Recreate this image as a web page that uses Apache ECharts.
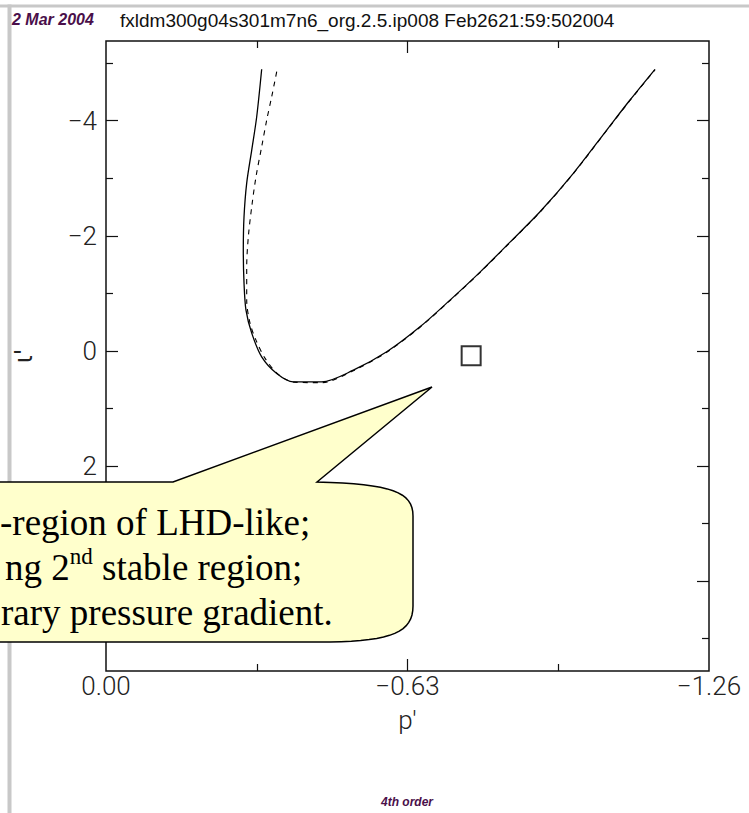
<!DOCTYPE html>
<html><head><meta charset="utf-8">
<script src="https://cdn.jsdelivr.net/npm/echarts@6/dist/echarts.min.js"></script>
<style>html,body{margin:0;padding:0;background:#fff}#c{width:749px;height:813px}</style>
</head><body><div id="c"></div>
<script>
// ---- data ----
const solidP = [-0.3253,-0.3149,-0.3045,-0.2940,-0.2884,-0.2869,-0.2884,-0.2925,-0.3045,-0.3253,-0.3567,-0.3914,-0.4507,-0.5168,-0.5866,-0.6561,-0.7188,-0.7815,-0.8442,-0.9069,-0.9765,-1.0463,-1.0949,-1.1472];
const solidIota = [-4.894,-4.069,-3.490,-2.916,-2.330,-1.751,-1.177,-0.708,-0.308,0.104,0.393,0.539,0.539,0.336,0.017,-0.417,-0.882,-1.369,-1.890,-2.417,-3.085,-3.838,-4.360,-4.894];
const dashedP = [-0.3567,-0.3462,-0.3358,-0.3253,-0.3134,-0.3045,-0.2974,-0.2940,-0.2940,-0.3009,-0.3134,-0.3322,-0.3594,-0.3928,-0.4513,-0.5168,-0.5866,-0.6561,-0.7188,-0.7815,-0.8442,-0.9069,-0.9765,-1.0463,-1.0949,-1.1472];
const dashedIota = [-4.852,-4.417,-4.012,-3.548,-3.026,-2.504,-1.983,-1.461,-0.882,-0.482,-0.186,0.127,0.405,0.544,0.553,0.345,0.025,-0.410,-0.875,-1.362,-1.884,-2.412,-3.080,-3.832,-4.352,-4.886];
const markerP = [-0.763];
const markerIota = [0.084];

const xRange = [-1.26, 0];
const yRange = [-5.386, 5.565];
const xLabelValues = [0, -0.63, -1.26];
const xMajorTicks = [-0.63];
const xMinorTicks = [-0.315, -0.945];
const yLabelValues = [-4, -2, 0, 2];
const yMajorTicks = [-4, -2, 0, 2, 4];
const yMinorTicks = [-5, -3, -1, 1, 3, 5];

const titleText = 'fxldm300g04s301m7n6_org.2.5.ip008 Feb2621:59:502004';
const dateText = '2 Mar 2004';
const footText = '4th order';
const xName = "p'";
const yName = "\u03b9'";
const calloutLine1 = '-region of LHD-like;';
const calloutLine2a = 'ng 2';
const calloutLine2sup = 'nd';
const calloutLine2b = ' stable region;';
const calloutLine3 = 'rary pressure gradient.';

// ---- helpers ----
const zip = (a, b) => a.map((v, i) => [v, b[i]]);
const fmtX = v => (Math.abs(v) < 1e-9 ? '0.00' : (v < 0 ? '\u2212' : '') + Math.abs(v).toFixed(2));
const fmtY = v => (v < 0 ? '\u2212' + Math.abs(v) : String(v));
const thinFamily = 'Roboto, "Liberation Sans", Arial, sans-serif';
const labelFont = { fontFamily: thinFamily, fontWeight: 300, fontSize: 26, color: '#222' };

function xAx(pos, ticks, len, labels) {
  return {
    type: 'value', position: pos, min: xRange[0], max: xRange[1], inverse: true,
    axisLine: { show: false, onZero: false }, splitLine: { show: false },
    axisTick: { show: true, inside: true, length: len, customValues: ticks, lineStyle: { color: '#111', width: 1.2 } },
    axisLabel: labels ? Object.assign({ show: true, customValues: labels, formatter: fmtX, margin: 2 }, labelFont) : { show: false }
  };
}
function yAx(pos, ticks, len, labels) {
  return {
    type: 'value', position: pos, min: yRange[0], max: yRange[1], inverse: true,
    axisLine: { show: false, onZero: false }, splitLine: { show: false },
    axisTick: { show: true, inside: true, length: len, customValues: ticks, lineStyle: { color: '#111', width: 1.2 } },
    axisLabel: labels ? Object.assign({ show: true, customValues: labels, formatter: fmtY, margin: 9 }, labelFont) : { show: false }
  };
}

const xAxes = [
  Object.assign(xAx('bottom', xMajorTicks, 12, xLabelValues), {
    name: xName, nameLocation: 'middle', nameGap: 36,
    nameTextStyle: { fontFamily: thinFamily, fontWeight: 300, fontSize: 26, color: '#222' }
  }),
  xAx('bottom', xMinorTicks, 7, null),
  xAx('top', xMajorTicks, 12, null),
  xAx('top', xMinorTicks, 7, null)
];
const yAxes = [
  Object.assign(yAx('left', yMajorTicks, 12, yLabelValues), {
    name: yName, nameLocation: 'middle', nameGap: 70, nameRotate: 90,
    nameTextStyle: { fontFamily: '"DejaVu Sans", sans-serif', fontSize: 24, color: '#222' }
  }),
  yAx('left', yMinorTicks, 7, null),
  yAx('right', yMajorTicks, 12, null),
  yAx('right', yMinorTicks, 7, null)
];

// callout outline (decoration) built from straight segments and sampled cubic corners
function cubic(p0, p1, p2, p3, n) {
  const out = [];
  for (let i = 1; i <= n; i++) {
    const t = i / n, u = 1 - t;
    out.push([
      u*u*u*p0[0] + 3*u*u*t*p1[0] + 3*u*t*t*p2[0] + t*t*t*p3[0],
      u*u*u*p0[1] + 3*u*u*t*p1[1] + 3*u*t*t*p2[1] + t*t*t*p3[1]
    ]);
  }
  return out;
}
const bubblePts = [[-20, 482], [173, 482], [432, 387], [317, 482]]
  .concat(cubic([317, 482], [392, 484], [413, 492], [413, 516], 16))
  .concat([[413, 606]])
  .concat(cubic([413, 606], [413, 632], [392, 641], [330, 642], 16))
  .concat([[-20, 642]]);

const serifFont = '37px "Liberation Serif", "Times New Roman", serif';

const chart = echarts.init(document.getElementById('c'), null, { renderer: 'svg', width: 749, height: 813 });
chart.setOption({
  animation: false,
  backgroundColor: '#fff',
  grid: { left: 106, top: 41, width: 603, height: 630, show: true, borderColor: '#111', borderWidth: 1.5, backgroundColor: 'transparent' },
  xAxis: xAxes,
  yAxis: yAxes,
  series: [
    { type: 'line', data: zip(dashedP, dashedIota), showSymbol: false, smooth: 0.3, xAxisIndex: 0, yAxisIndex: 0,
      lineStyle: { color: '#000', width: 1.1, type: [5, 5] }, z: 2 },
    { type: 'line', data: zip(solidP, solidIota), showSymbol: false, smooth: 0.3, xAxisIndex: 0, yAxisIndex: 0,
      lineStyle: { color: '#000', width: 1.3 }, z: 3 },
    { type: 'scatter', data: zip(markerP, markerIota), symbol: 'rect', symbolSize: 19, xAxisIndex: 0, yAxisIndex: 0,
      itemStyle: { color: 'rgba(255,255,255,0)', borderColor: '#000', borderWidth: 2 }, z: 4 }
  ],
  graphic: [
    { type: 'rect', silent: true, shape: { x: 0, y: 4.5, width: 749, height: 3 }, style: { fill: '#c8c8c8' } },
    { type: 'rect', silent: true, shape: { x: 7.5, y: 4.5, width: 4, height: 809 }, style: { fill: '#c8c8c8' } },
    { type: 'text', silent: true, x: 12, y: 19, style: { text: dateText, font: 'italic bold 16px "Liberation Sans", Arial, sans-serif', fill: '#4a0f4a', align: 'left', verticalAlign: 'middle' } },
    { type: 'text', silent: true, x: 120, y: 20, style: { text: titleText, font: '19px "Liberation Sans", Arial, sans-serif', fill: '#111', align: 'left', verticalAlign: 'middle' } },
    { type: 'text', silent: true, x: 407, y: 802, style: { text: footText, font: 'italic bold 12px "Liberation Sans", Arial, sans-serif', fill: '#4a0f4a', align: 'center', verticalAlign: 'middle' } },
    { type: 'polygon', silent: true, z: 100, shape: { points: bubblePts }, style: { fill: '#ffffcc', stroke: '#000', lineWidth: 1.5 } },
    { type: 'text', silent: true, z: 101, x: 0, y: 522, style: { text: calloutLine1, font: serifFont, fill: '#000', align: 'left', verticalAlign: 'middle' } },
    { type: 'text', silent: true, z: 101, x: 5, y: 567, style: {
        text: '{a|' + calloutLine2a + '}{s|' + calloutLine2sup + '}{a|' + calloutLine2b + '}',
        fill: '#000', align: 'left', verticalAlign: 'middle',
        rich: {
          a: { font: serifFont, fill: '#000', lineHeight: 45 },
          s: { font: '23px "Liberation Serif", "Times New Roman", serif', fill: '#000', lineHeight: 30, verticalAlign: 'top' }
        } } },
    { type: 'text', silent: true, z: 101, x: 1, y: 612, style: { text: calloutLine3, font: serifFont, fill: '#000', align: 'left', verticalAlign: 'middle' } }
  ]
});
</script>
</body></html>
